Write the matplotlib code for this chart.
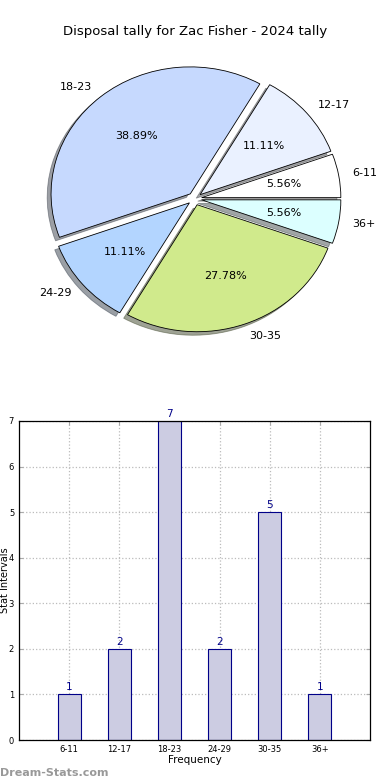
import matplotlib
matplotlib.use("Agg")
import matplotlib.pyplot as plt

categories = ["6-11", "12-17", "18-23", "24-29", "30-35", "36+"]
counts = [1, 2, 7, 2, 5, 1]
pie_colors = ["#ffffff", "#eaf1ff", "#c6d9fe", "#b3d5ff", "#d0ea8c", "#dcffff"]
title = "Disposal tally for Zac Fisher - 2024 tally"

fig = plt.figure(figsize=(3.9, 7.8), dpi=100)

# Pie
axp = fig.add_axes([23.5/390, 422.5/780, 342.5/390, 317.5/780])
wedges, texts, autotexts = axp.pie(
    counts, labels=categories, colors=pie_colors, explode=[0.05]*len(counts),
    autopct="%1.2f%%", shadow=True, startangle=0, counterclock=True,
    wedgeprops=dict(edgecolor="black", linewidth=0.6),
    textprops=dict(fontsize=8))
axp.set_aspect("auto")
axp.set_xlim(-1.23, 1.23)
axp.set_ylim(-1.25, 1.25)
axp.set_title(title, fontsize=9.5, pad=3.5)

# Bars
axb = fig.add_axes([19/390, 40/780, 351/390, 319/780])
x = list(range(1, len(categories) + 1))
bars = axb.bar(x, counts, width=0.46, color="#ccccE2", edgecolor="#000088", linewidth=0.8, zorder=2)
for xi, c in zip(x, counts):
    axb.text(xi, c + 0.05, str(c), ha="center", va="bottom", fontsize=7.5, color="#000088")
axb.set_xlim(0, 7)
axb.set_ylim(0, 7)
axb.set_xticks(x)
axb.set_xticklabels(categories)
axb.set_yticks(range(0, 8))
axb.tick_params(labelsize=6, direction="in", top=True, right=True, color="#aaaaaa", length=3)
axb.grid(True, linestyle=":", color="#bbbbbb", linewidth=0.9, zorder=0)
axb.set_axisbelow(True)
axb.set_xlabel("Frequency", fontsize=7.5, labelpad=1)
axb.set_ylabel("Stat Intervals", fontsize=7)
axb.yaxis.set_label_coords(-0.027, 0.5)
for s in axb.spines.values():
    s.set_linewidth(0.9)

fig.text(0.0, 2.5/780, "Dream-Stats.com", fontsize=8, color="#999999", ha="left", va="bottom", fontweight="bold")

fig.savefig("out.png", dpi=100)
